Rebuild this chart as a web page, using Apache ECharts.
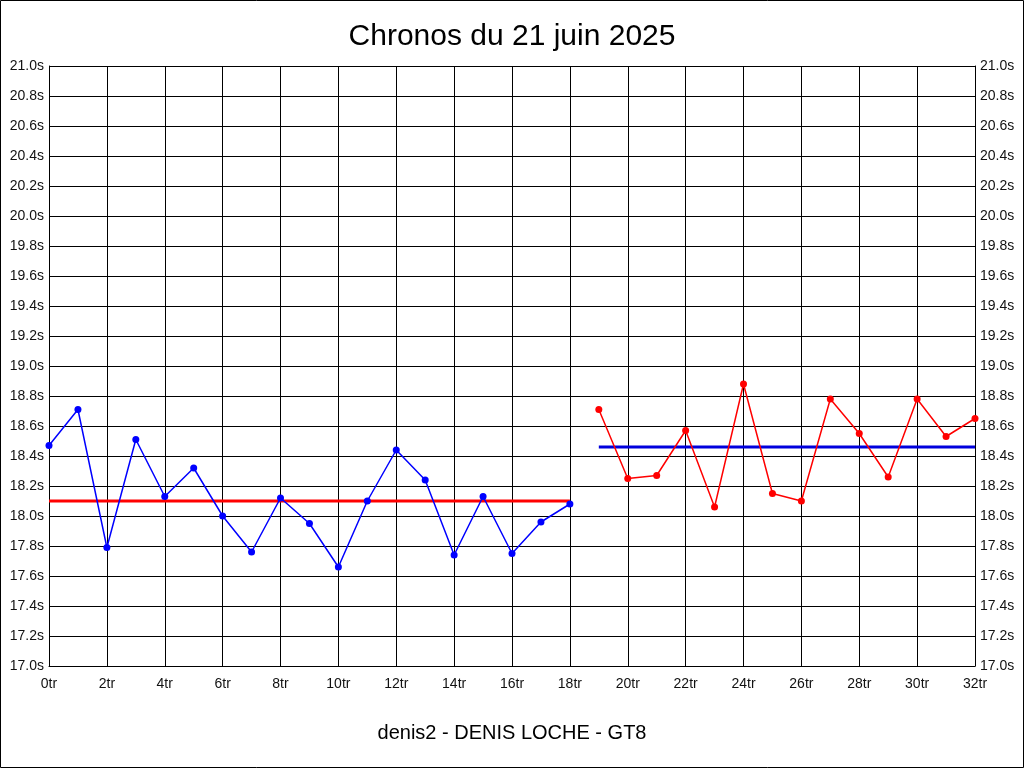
<!DOCTYPE html>
<html>
<head>
<meta charset="utf-8">
<script src="https://cdn.jsdelivr.net/npm/echarts@6/dist/echarts.min.js"></script>
<style>
html,body{margin:0;padding:0;background:#fff;}
#chart{width:1024px;height:768px;}
</style>
</head>
<body>
<div id="chart"></div>
<script>
// Session 1 (blue) laps 0..18
const laps1 = [0,1,2,3,4,5,6,7,8,9,10,11,12,13,14,15,16,17,18];
const times1 = [18.47,18.71,17.79,18.51,18.13,18.32,18.00,17.76,18.12,17.95,17.66,18.10,18.44,18.24,17.74,18.13,17.75,17.96,18.08];
// Session 2 (red) laps 19..32
const laps2 = [19,20,21,22,23,24,25,26,27,28,29,30,31,32];
const times2 = [18.71,18.25,18.27,18.57,18.06,18.88,18.15,18.10,18.78,18.55,18.26,18.78,18.53,18.65];
// average lines
const avg1 = 18.10;
const avg2 = 18.46;

const titleText = 'Chronos du 21 juin 2025';
const subText = 'denis2 - DENIS LOCHE - GT8';

const FONT = '"Liberation Sans", Arial, sans-serif';

const s1 = laps1.map((x,i)=>[x,times1[i]]);
const s2 = laps2.map((x,i)=>[x,times2[i]]);
const a1 = [[laps1[0],avg1],[laps1[laps1.length-1],avg1]];
const a2 = [[laps2[0],avg2],[laps2[laps2.length-1],avg2]];

const chart = echarts.init(document.getElementById('chart'), null, {renderer:'canvas'});
const yLabel = v => v.toFixed(1) + 's';
const yAxisBase = {
  type:'value', min:17, max:21, interval:0.2,
  axisLine:{show:true, lineStyle:{color:'#000', width:1}},
  axisTick:{show:false},
  splitLine:{show:true, lineStyle:{color:'#000', width:1}},
  axisLabel:{color:'#111', fontFamily:FONT, fontSize:14, margin:5, formatter:yLabel}
};
chart.setOption({
  animation:false,
  backgroundColor:'#fff',
  title:[
    {text:titleText, left:'center', top:17, textStyle:{fontFamily:FONT, fontSize:30, fontWeight:'normal', color:'#000'}},
    {text:subText, left:'center', top:718, textStyle:{fontFamily:FONT, fontSize:20, fontWeight:'normal', color:'#000'}}
  ],
  graphic:[{type:'rect', shape:{x:0.5,y:0.5,width:1023,height:767}, style:{fill:'none', stroke:'#000', lineWidth:1}, silent:true, z:100}],
  grid:{left:49, right:49, top:66, bottom:102, containLabel:false},
  xAxis:{
    type:'value', min:0, max:32, interval:2,
    axisLine:{show:true, onZero:false, lineStyle:{color:'#000', width:1}},
    axisTick:{show:false},
    splitLine:{show:true, lineStyle:{color:'#000', width:1}},
    axisLabel:{color:'#111', fontFamily:FONT, fontSize:14, margin:11, formatter:v=>v+'tr'}
  },
  yAxis:[
    Object.assign({}, yAxisBase, {position:'left'}),
    Object.assign({}, yAxisBase, {position:'right', splitLine:{show:false}})
  ],
  series:[
    {type:'line', data:a1, yAxisIndex:0, symbol:'none', lineStyle:{color:'#ff0000', width:3}, z:3},
    {type:'line', data:a2, yAxisIndex:0, symbol:'none', lineStyle:{color:'#0000dd', width:3}, z:3},
    {type:'line', data:s1, yAxisIndex:0, symbol:'circle', symbolSize:7, itemStyle:{color:'#0000ff'}, lineStyle:{color:'#0000ff', width:1.5}, z:4},
    {type:'line', data:s2, yAxisIndex:0, symbol:'circle', symbolSize:7, itemStyle:{color:'#ff0000'}, lineStyle:{color:'#ff0000', width:1.5}, z:4}
  ]
});
</script>
</body>
</html>
